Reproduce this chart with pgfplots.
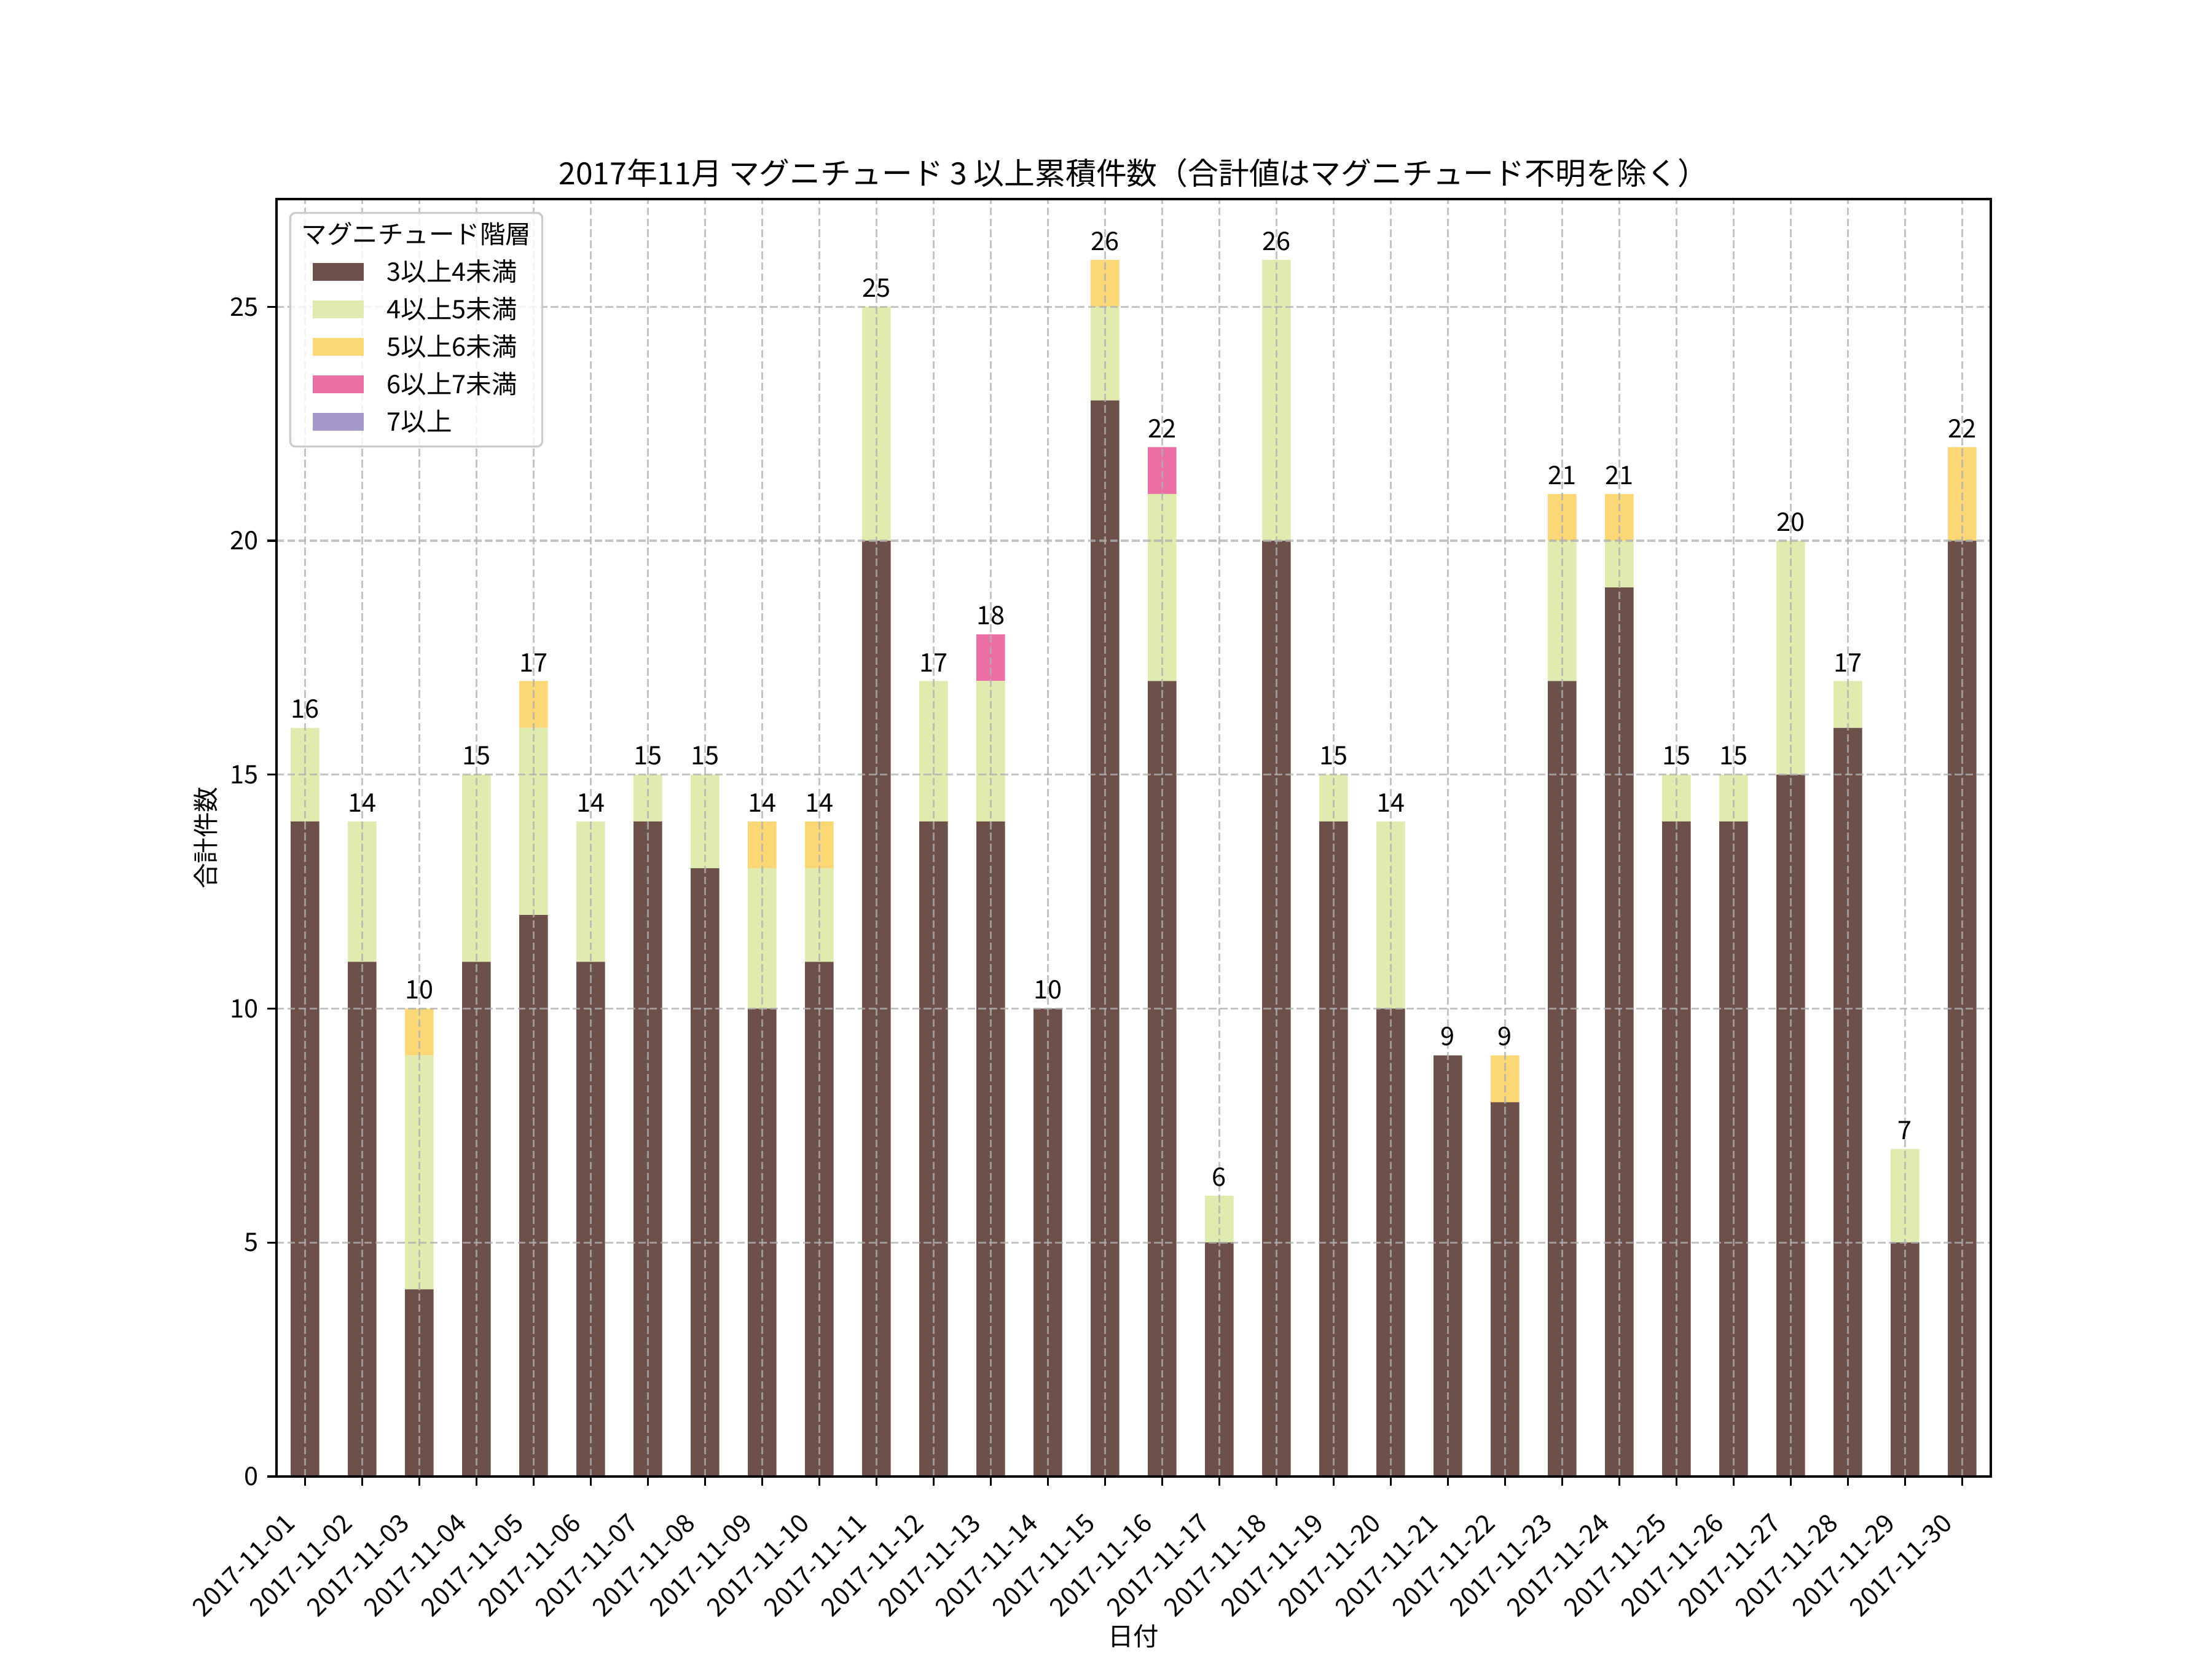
\documentclass[border=0pt]{standalone}
\usepackage{fontspec}
\setmainfont{Noto Sans CJK JP}
\usepackage{pgfplots}
\usepackage{pgfplotstable}
\pgfplotsset{compat=1.18}
\definecolor{cA}{HTML}{6D504A}
\definecolor{cB}{HTML}{E0EBAF}
\definecolor{cC}{HTML}{FBD775}
\definecolor{cD}{HTML}{EB6EA5}
\definecolor{cE}{HTML}{A499C8}
\definecolor{gridc}{HTML}{B0B0B0}
\definecolor{legc}{HTML}{CCCCCC}
\pgfplotstableread{
x b g y p v t
0 14 2 0 0 0 16
1 11 3 0 0 0 14
2 4 5 1 0 0 10
3 11 4 0 0 0 15
4 12 4 1 0 0 17
5 11 3 0 0 0 14
6 14 1 0 0 0 15
7 13 2 0 0 0 15
8 10 3 1 0 0 14
9 11 2 1 0 0 14
10 20 5 0 0 0 25
11 14 3 0 0 0 17
12 14 3 0 1 0 18
13 10 0 0 0 0 10
14 23 2 1 0 0 26
15 17 4 0 1 0 22
16 5 1 0 0 0 6
17 20 6 0 0 0 26
18 14 1 0 0 0 15
19 10 4 0 0 0 14
20 9 0 0 0 0 9
21 8 0 1 0 0 9
22 17 3 1 0 0 21
23 19 1 1 0 0 21
24 14 1 0 0 0 15
25 14 1 0 0 0 15
26 15 5 0 0 0 20
27 16 1 0 0 0 17
28 5 2 0 0 0 7
29 20 0 2 0 0 22
}\data
\begin{document}
\begin{tikzpicture}
\useasboundingbox (0,0) rectangle (867.24pt,650.43pt);
\begin{axis}[
  name=ax,
  at={(108.4pt,71.55pt)}, anchor=south west,
  scale only axis, width=672.1pt, height=500.8pt,
  /pgf/number format/assume math mode=true,
  font=\fontsize{10}{12}\selectfont,
  ybar stacked, bar width=0.5,
  xmin=-0.5, xmax=29.5, ymin=0, ymax=27.3,
  xtick={0,...,29},
  xticklabels={2017-11-01,2017-11-02,2017-11-03,2017-11-04,2017-11-05,2017-11-06,2017-11-07,2017-11-08,2017-11-09,2017-11-10,2017-11-11,2017-11-12,2017-11-13,2017-11-14,2017-11-15,2017-11-16,2017-11-17,2017-11-18,2017-11-19,2017-11-20,2017-11-21,2017-11-22,2017-11-23,2017-11-24,2017-11-25,2017-11-26,2017-11-27,2017-11-28,2017-11-29,2017-11-30},
  ytick={0,5,10,15,20,25},
  tick pos=left, tick align=outside, major tick length=3.5pt,
  tick style={black, line width=0.8pt},
  axis line style={line width=0.8pt},
  xticklabel style={xshift=-8.5pt, yshift=-5.5pt, rotate=45, anchor=north east, font=\fontsize{10}{12}\selectfont},
  yticklabel style={font=\fontsize{10}{12}\selectfont},
  grid=major,
  major grid style={draw=gridc, draw opacity=0.75, dash pattern=on 3pt off 1.3pt, line width=0.8pt},
  axis on top,
  xlabel={日付},
  xlabel style={at={(axis description cs:0.5,0)}, anchor=center, yshift=-62.5pt},
  ylabel={合計件数},
  ylabel style={at={(axis description cs:0,0.5)}, anchor=center, yshift=27.7pt},
  title={2017年11月 マグニチュード 3 以上累積件数（合計値はマグニチュード不明を除く）},
  title style={at={(axis description cs:0.5,1)}, anchor=center, yshift=4.2pt, font=\fontsize{12}{14}\selectfont},
]
\addplot[fill=cA, draw=none] table[x=x,y=b]{\data};
\addplot[fill=cB, draw=none] table[x=x,y=g]{\data};
\addplot[fill=cC, draw=none] table[x=x,y=y]{\data};
\addplot[fill=cD, draw=none] table[x=x,y=p]{\data};
\addplot[fill=cE, draw=none] table[x=x,y=v]{\data};
\end{axis}
\begin{axis}[
  at={(108.4pt,71.55pt)}, anchor=south west,
  scale only axis, width=672.1pt, height=500.8pt,
  /pgf/number format/assume math mode=true,
  xmin=-0.5, xmax=29.5, ymin=0, ymax=27.3,
  hide axis, clip=false,
]
\addplot[draw=none, mark=none, nodes near coords, point meta=y,
  nodes near coords style={anchor=south, text=black, inner sep=3.5pt, font=\fontsize{10}{12}\selectfont}]
  table[x=x,y=t]{\data};
\end{axis}
\node[anchor=north west, draw=legc, line width=0.8pt, rounded corners=2pt, fill=white, fill opacity=0.8, text opacity=1,
  inner xsep=4.4pt, inner ysep=1.7pt, font=\fontsize{10}{12}\selectfont, xshift=5pt, yshift=-5pt] at (ax.north west) {%
  \renewcommand{\arraystretch}{1.225}%
  \begin{tabular}{@{\hspace*{4.5pt}}l@{\hspace{9pt}}l@{}}
  \multicolumn{2}{@{}c@{}}{マグニチュード階層}\\
  \textcolor{cA}{\rule{20pt}{7pt}} & 3以上4未満\\
  \textcolor{cB}{\rule{20pt}{7pt}} & 4以上5未満\\
  \textcolor{cC}{\rule{20pt}{7pt}} & 5以上6未満\\
  \textcolor{cD}{\rule{20pt}{7pt}} & 6以上7未満\\
  \textcolor{cE}{\rule{20pt}{7pt}} & 7以上
  \end{tabular}};
\end{tikzpicture}
\end{document}
